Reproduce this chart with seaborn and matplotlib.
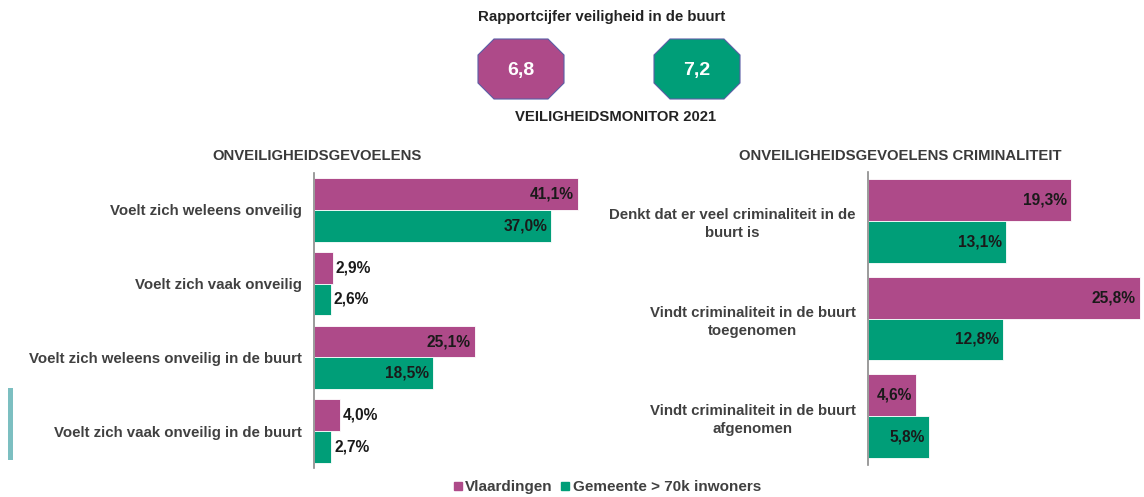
import pandas as pd
import matplotlib.pyplot as plt
import seaborn as sns
from matplotlib.patches import Polygon, Rectangle
from matplotlib.lines import Line2D

# ---------------------------------------------------------
# data
# ---------------------------------------------------------
series = ['Vlaardingen', 'Gemeente > 70k inwoners']
kleuren = ['#AE4A89', '#009E78']

rapportcijfer = [6.8, 7.2]

cats_links = ['Voelt zich weleens onveilig', 'Voelt zich vaak onveilig',
              'Voelt zich weleens onveilig in de buurt', 'Voelt zich vaak onveilig in de buurt']
vlaardingen_links = [41.1, 2.9, 25.1, 4.0]
gemeente_links = [37.0, 2.6, 18.5, 2.7]

cats_rechts = ['Denkt dat er veel criminaliteit in de\nbuurt is',
               'Vindt criminaliteit in de buurt\ntoegenomen',
               'Vindt criminaliteit in de buurt\nafgenomen']
vlaardingen_rechts = [19.3, 25.8, 4.6]
gemeente_rechts = [13.1, 12.8, 5.8]


def lang(cats, a, b):
    return pd.DataFrame({
        'cat': cats * 2,
        'waarde': a + b,
        'serie': [series[0]] * len(cats) + [series[1]] * len(cats),
    })


df_links = lang(cats_links, vlaardingen_links, gemeente_links)
df_rechts = lang(cats_rechts, vlaardingen_rechts, gemeente_rechts)

sns.set_theme(style='white')
plt.rcParams['font.family'] = ['Liberation Sans', 'DejaVu Sans']

W, H = 1144, 497
fig = plt.figure(figsize=(W / 100, H / 100), dpi=100)

# overlay in pixel coordinates for the decorations
deco = fig.add_axes([0, 0, 1, 1])
deco.set_xlim(0, W)
deco.set_ylim(H, 0)
deco.axis('off')


def achthoek(cx, cy, w, h, c, kleur):
    x0, x1 = cx - w / 2, cx + w / 2
    y0, y1 = cy - h / 2, cy + h / 2
    pts = [(x0 + c, y0), (x1 - c, y0), (x1, y0 + c), (x1, y1 - c),
           (x1 - c, y1), (x0 + c, y1), (x0, y1 - c), (x0, y0 + c)]
    deco.add_patch(Polygon(pts, closed=True, facecolor=kleur,
                           edgecolor='#5B5EA6', linewidth=0.8))


deco.text(602, 17, 'Rapportcijfer veiligheid in de buurt', ha='center', va='center',
          fontsize=10.8, fontweight='bold', color='#222222')
for cx, cijfer, kleur in zip([521, 697], rapportcijfer, kleuren):
    achthoek(cx, 69, 86, 60, 16, kleur)
    deco.text(cx, 70, f'{cijfer:.1f}'.replace('.', ','), ha='center', va='center',
              fontsize=14, fontweight='bold', color='white')
deco.text(616, 117, 'VEILIGHEIDSMONITOR 2021', ha='center', va='center',
          fontsize=10.7, fontweight='bold', color='#222222')

deco.text(317, 156, 'ONVEILIGHEIDSGEVOELENS', ha='center', va='center',
          fontsize=10.7, fontweight='bold', color='#3A3A3A')
deco.text(900, 156, 'ONVEILIGHEIDSGEVOELENS CRIMINALITEIT', ha='center', va='center',
          fontsize=10.7, fontweight='bold', color='#3A3A3A')

# teal accent strip at the left edge
deco.add_patch(Rectangle((8, 388), 5, 72, facecolor='#7CBFC1', edgecolor='none'))

# ---------------------------------------------------------
# bar panels
# ---------------------------------------------------------
ax_l = fig.add_axes([314 / W, 1 - 468 / H, 276 / W, 295 / H])
ax_r = fig.add_axes([868 / W, 1 - 465 / H, 274 / W, 293 / H])


def paneel(ax, df, xmax, grens):
    sns.barplot(data=df, y='cat', x='waarde', hue='serie', orient='h',
                palette=kleuren, width=0.86, ax=ax, legend=False,
                edgecolor='white', linewidth=0.6, saturation=1)
    ax.set_xlim(0, xmax)
    ax.set_xlabel('')
    ax.set_ylabel('')
    ax.set_xticks([])
    for s in ['top', 'right', 'bottom']:
        ax.spines[s].set_visible(False)
    ax.spines['left'].set_color('#8A8A8A')
    ax.spines['left'].set_linewidth(1.2)
    ax.tick_params(axis='y', length=0, pad=9)
    for lab in ax.get_yticklabels():
        lab.set_fontsize(10.8)
        lab.set_fontweight('bold')
        lab.set_color('#404040')
        lab.set_multialignment('center')
        lab.set_linespacing(1.35)
    ax.set_facecolor('none')

    for p in ax.patches:
        v = p.get_width()
        y = p.get_y() + p.get_height() / 2
        txt = f'{v:.1f}%'.replace('.', ',')
        if v >= grens:
            ax.annotate(txt, (v, y), xytext=(-3, 0), textcoords='offset points',
                        ha='right', va='center', fontsize=11.2, fontweight='bold', color='#1A1A1A')
        else:
            ax.annotate(txt, (v, y), xytext=(2, 0), textcoords='offset points',
                        ha='left', va='center', fontsize=11.2, fontweight='bold', color='#1A1A1A')


paneel(ax_l, df_links, 43.0, 10)
paneel(ax_r, df_rechts, 26.0, 0)
ax_r.set_ylim(2.5, -0.5)

# legend
handles = [Line2D([], [], marker='s', linestyle='none', markersize=5.5,
                  markerfacecolor=k, markeredgecolor=k) for k in kleuren]
fig.legend(handles, series, loc='center', bbox_to_anchor=(607 / W, 1 - 487 / H), ncol=2,
           frameon=False, handlelength=0.6, handletextpad=0.2, columnspacing=0.5,
           prop={'size': 11, 'weight': 'bold'}, labelcolor='#404040')

plt.savefig('out.png', dpi=100)
plt.close()
